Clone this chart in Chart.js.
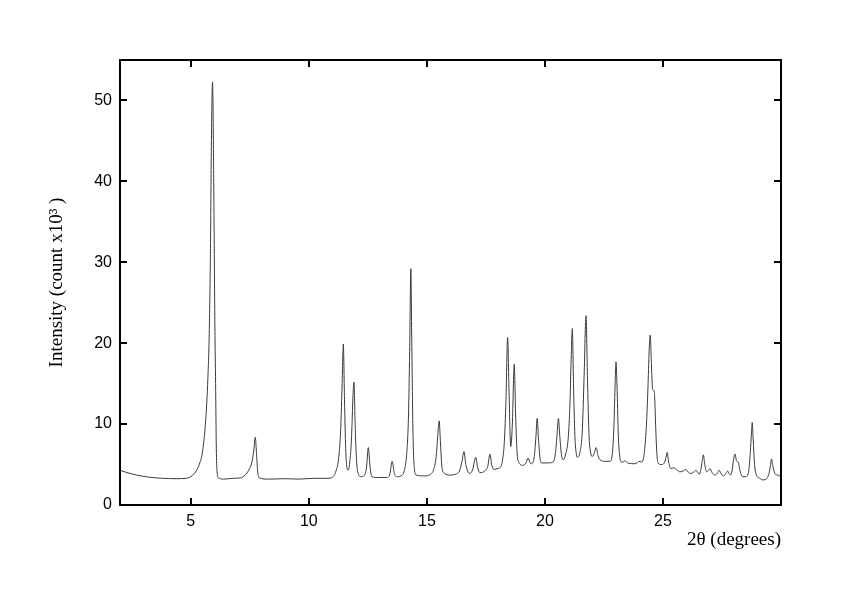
<!DOCTYPE html>
<html>
<head>
<meta charset="utf-8">
<script src="https://cdn.jsdelivr.net/npm/chart.js@4.4.1/dist/chart.umd.min.js"></script>
<style>
  html, body { margin: 0; padding: 0; background: #fff; }
  #wrap { width: 842px; height: 595px; position: relative; }
</style>
</head>
<body>
<div id="wrap"><canvas id="xrd" width="842" height="595"></canvas></div>
<script>
// 2-theta positions (degrees) and intensity (count x10^3)
const twoTheta = [
  2.00, 2.30, 2.70, 3.20, 3.80, 4.40, 4.80, 5.00, 5.15, 5.25, 5.38, 5.46, 5.55, 5.64, 5.72, 5.78, 5.83, 5.87, 5.92, 5.97,
  6.02, 6.05, 6.08, 6.11, 6.15, 6.40, 6.80, 7.10, 7.30, 7.45, 7.58, 7.67, 7.73, 7.78, 7.83, 7.90, 8.30, 9.00, 9.60, 10.20,
  10.80, 11.00, 11.15, 11.27, 11.35, 11.41, 11.46, 11.51, 11.56, 11.62, 11.66, 11.73, 11.81, 11.87, 11.91, 11.96, 12.02, 12.10, 12.20, 12.33,
  12.44, 12.52, 12.59, 12.67, 12.90, 13.30, 13.42, 13.53, 13.62, 13.75, 13.95, 14.07, 14.15, 14.22, 14.27, 14.32, 14.36, 14.41, 14.47, 14.55,
  14.90, 15.15, 15.30, 15.40, 15.47, 15.52, 15.57, 15.64, 15.75, 15.97, 16.20, 16.38, 16.48, 16.57, 16.65, 16.80, 16.93, 17.07, 17.15, 17.25,
  17.45, 17.58, 17.67, 17.75, 17.84, 18.00, 18.10, 18.20, 18.28, 18.35, 18.42, 18.48, 18.55, 18.62, 18.70, 18.76, 18.82, 18.87, 19.08, 19.20,
  19.29, 19.37, 19.43, 19.55, 19.62, 19.67, 19.73, 19.80, 19.86, 20.10, 20.34, 20.45, 20.52, 20.57, 20.63, 20.70, 20.77, 20.88, 20.99, 21.06,
  21.11, 21.16, 21.21, 21.27, 21.33, 21.38, 21.48, 21.58, 21.66, 21.74, 21.80, 21.87, 21.94, 22.00, 22.08, 22.17, 22.25, 22.33, 22.55, 22.75,
  22.85, 22.92, 22.97, 23.01, 23.06, 23.11, 23.17, 23.22, 23.31, 23.39, 23.50, 23.81, 23.90, 23.98, 24.08, 24.16, 24.23, 24.31, 24.37, 24.42,
  24.46, 24.51, 24.56, 24.60, 24.64, 24.70, 24.75, 24.80, 24.95, 25.07, 25.13, 25.18, 25.24, 25.34, 25.45, 25.60, 25.72, 25.85, 25.97, 26.06,
  26.14, 26.28, 26.40, 26.48, 26.54, 26.60, 26.66, 26.71, 26.77, 26.85, 26.93, 26.99, 27.08, 27.20, 27.30, 27.38, 27.46, 27.55, 27.65, 27.74,
  27.80, 27.86, 27.93, 27.99, 28.05, 28.11, 28.15, 28.19, 28.25, 28.37, 28.50, 28.62, 28.70, 28.75, 28.78, 28.82, 28.88, 28.96, 29.10, 29.24,
  29.40, 29.50, 29.56, 29.60, 29.65, 29.74, 29.85, 29.95, 30.00
];
const intensity = [
  4.3, 4.0, 3.7, 3.45, 3.3, 3.25, 3.3, 3.5, 3.9, 4.3, 5.2, 6.0, 7.8, 10.9, 15.5, 21.2, 31.0, 44.3, 52.3, 40.0,
  22.0, 15.0, 7.0, 4.2, 3.4, 3.2, 3.3, 3.35, 3.7, 4.3, 5.2, 6.8, 8.4, 6.5, 4.2, 3.35, 3.2, 3.25, 3.2, 3.3,
  3.3, 3.45, 4.2, 6.0, 9.5, 15.0, 19.9, 13.0, 7.0, 4.5, 4.3, 5.2, 8.5, 13.5, 15.2, 10.0, 5.5, 3.8, 3.5, 3.6,
  4.6, 7.1, 4.8, 3.5, 3.4, 3.4, 3.7, 5.4, 3.9, 3.5, 3.7, 4.6, 6.5, 11.0, 19.0, 29.2, 20.0, 9.0, 4.5, 3.7,
  3.6, 3.8, 4.5, 6.2, 9.0, 10.4, 8.0, 4.6, 3.9, 3.7, 3.8, 4.2, 5.3, 6.6, 5.0, 3.9, 4.3, 5.9, 4.6, 4.0,
  4.2, 4.8, 6.3, 4.9, 4.4, 4.5, 4.6, 5.5, 7.8, 13.0, 20.7, 14.0, 7.2, 10.0, 17.4, 11.0, 6.5, 5.4, 4.9, 5.2,
  5.8, 5.2, 5.1, 6.0, 8.5, 10.7, 8.0, 5.6, 5.2, 5.2, 5.3, 6.5, 9.0, 10.7, 8.5, 6.2, 5.6, 6.3, 8.4, 12.5,
  18.0, 21.8, 15.0, 8.5, 6.3, 5.9, 6.5, 9.0, 16.0, 23.4, 16.0, 8.5, 6.4, 6.0, 6.3, 7.1, 6.1, 5.6, 5.4, 5.4,
  6.2, 9.5, 14.5, 17.7, 14.0, 8.5, 6.0, 5.35, 5.3, 5.5, 5.2, 5.1, 5.2, 5.4, 5.3, 5.6, 7.0, 10.5, 15.0, 19.5,
  21.0, 17.5, 14.3, 14.2, 13.8, 9.0, 6.0, 5.15, 5.0, 5.3, 5.9, 6.5, 5.3, 4.5, 4.6, 4.3, 4.1, 4.2, 4.4, 4.1,
  3.9, 4.0, 4.3, 4.0, 3.8, 4.3, 5.4, 6.2, 5.0, 4.1, 4.3, 4.5, 4.0, 3.7, 3.9, 4.3, 3.9, 3.6, 3.8, 4.2,
  3.9, 3.7, 4.3, 5.6, 6.3, 5.5, 5.35, 5.3, 4.4, 3.5, 3.5, 4.0, 6.5, 9.0, 10.2, 8.2, 5.0, 3.7, 3.3, 3.1,
  3.3, 4.0, 5.0, 5.7, 4.9, 3.9, 3.7, 3.6, 3.4
];
const xTicks = [5, 10, 15, 20, 25];
const yTicks = [0, 10, 20, 30, 40, 50];

const points = twoTheta.map((x, i) => ({x: x, y: intensity[i]}));

// frame and inward ticks on all four sides
const framePlugin = {
    id: 'frame',
    afterDraw(chart) {
        const {ctx, chartArea: a, scales} = chart;
        const len = 7;
        ctx.save();
        ctx.strokeStyle = '#000';
        ctx.lineWidth = 2;
        ctx.strokeRect(a.left, a.top, a.right - a.left, a.bottom - a.top);
        ctx.beginPath();
        xTicks.forEach(v => {
            const px = Math.round(scales.x.getPixelForValue(v));
            ctx.moveTo(px, a.bottom); ctx.lineTo(px, a.bottom - len);
            ctx.moveTo(px, a.top); ctx.lineTo(px, a.top + len);
        });
        yTicks.forEach(v => {
            const py = Math.round(scales.y.getPixelForValue(v));
            ctx.moveTo(a.left, py); ctx.lineTo(a.left + len, py);
            ctx.moveTo(a.right, py); ctx.lineTo(a.right - len, py);
        });
        ctx.stroke();
        ctx.restore();
    }
};

new Chart(document.getElementById('xrd'), {
    type: 'scatter',
    data: {
        datasets: [{
            data: points,
            showLine: true,
            borderColor: '#3a3a3a',
            borderWidth: 1,
            pointRadius: 0,
            cubicInterpolationMode: 'monotone'
        }]
    },
    options: {
        responsive: false,
        animation: false,
        devicePixelRatio: 1,
        layout: { padding: { left: 0, top: 60, right: 61, bottom: 0 } },
        plugins: { legend: { display: false }, tooltip: { enabled: false } },
        scales: {
            x: {
                type: 'linear',
                min: 2,
                max: 30,
                afterBuildTicks: s => { s.ticks = xTicks.map(v => ({value: v})); },
                afterFit: s => { s.height = 90; },
                grid: { display: false, drawTicks: false },
                border: { display: false },
                ticks: {
                    color: '#000',
                    padding: 7,
                    maxRotation: 0,
                    font: { family: 'Liberation Sans, Arial, sans-serif', size: 16 }
                },
                title: {
                    display: true,
                    text: '2θ (degrees)',
                    align: 'end',
                    color: '#000',
                    padding: { top: 0, bottom: 44 },
                    font: { family: 'Liberation Serif, Times New Roman, serif', size: 19 }
                }
            },
            y: {
                type: 'linear',
                min: 0,
                max: 55,
                afterBuildTicks: s => { s.ticks = yTicks.map(v => ({value: v})); },
                afterFit: s => { s.width = 120; },
                grid: { display: false, drawTicks: false },
                border: { display: false },
                ticks: {
                    color: '#000',
                    padding: 8,
                    font: { family: 'Liberation Sans, Arial, sans-serif', size: 16 }
                },
                title: {
                    display: true,
                    text: 'Intensity (count x10³ )',
                    color: '#000',
                    padding: { top: 46, bottom: 0 },
                    font: { family: 'Liberation Serif, Times New Roman, serif', size: 19 }
                }
            }
        }
    },
    plugins: [framePlugin]
});
</script>
</body>
</html>
